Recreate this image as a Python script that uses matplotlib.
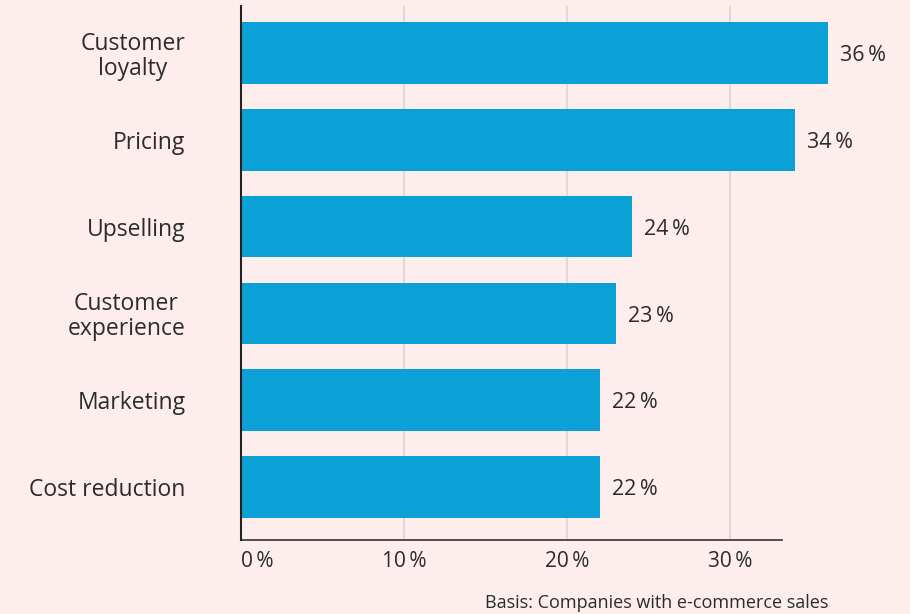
import matplotlib
matplotlib.use("Agg")
import matplotlib.pyplot as plt

categories = ["Customer\nloyalty", "Pricing", "Upselling", "Customer\nexperience",
              "Marketing", "Cost reduction"]
values = [36, 34, 24, 23, 22, 22]
ticks = [0, 10, 20, 30]
tick_labels = ["0\u2009%", "10\u2009%", "20\u2009%", "30\u2009%"]
note = "Basis: Companies with e-commerce sales"

bg = "#fdeeed"
bar_color = "#0ba1d6"
text_color = "#2b2b2b"

plt.rcParams["font.family"] = ["Open Sans", "DejaVu Sans"]

fig = plt.figure(figsize=(9.1, 6.14), dpi=100, facecolor=bg)
ax = fig.add_axes([0.2648, 0.1205, 0.7165, 0.8695], facecolor=bg)

y = list(range(len(categories)))
ax.barh(y, values, height=0.71, color=bar_color, zorder=3)

for yi, v in zip(y, values):
    ax.text(v + 0.75, yi + 0.03, f"{v}\u2009%", va="center", ha="left",
            fontsize=15.5, color=text_color)

ax.set_xlim(0, 40)
ax.set_ylim(5.61, -0.54)

ax.set_xticks(ticks)
ax.set_xticklabels(tick_labels, fontsize=15, color=text_color)
ax.tick_params(axis="x", length=0, pad=8)
# first tick label sits left-aligned on the axis
ax.get_xticklabels()[0].set_horizontalalignment("left")

ax.set_yticks(y)
ax.set_yticklabels(categories, fontsize=16.5, color=text_color, multialignment="center",
                   linespacing=1.05)
ax.tick_params(axis="y", length=0, pad=40)

for t in ticks[1:]:
    ax.axvline(t, color="#e2d8d8", lw=1.5, zorder=1)

for s in ["top", "right"]:
    ax.spines[s].set_visible(False)
ax.spines["left"].set_color("#222222")
ax.spines["left"].set_linewidth(1.5)
ax.spines["bottom"].set_color("#333333")
ax.spines["bottom"].set_linewidth(1.2)
ax.spines["bottom"].set_bounds(0, 33.2)
ax.spines["left"].set_zorder(4)

fig.text(0.91, 0.003, note, ha="right", va="bottom", fontsize=13, color=text_color)

fig.savefig("out.png", dpi=100, facecolor=bg)
